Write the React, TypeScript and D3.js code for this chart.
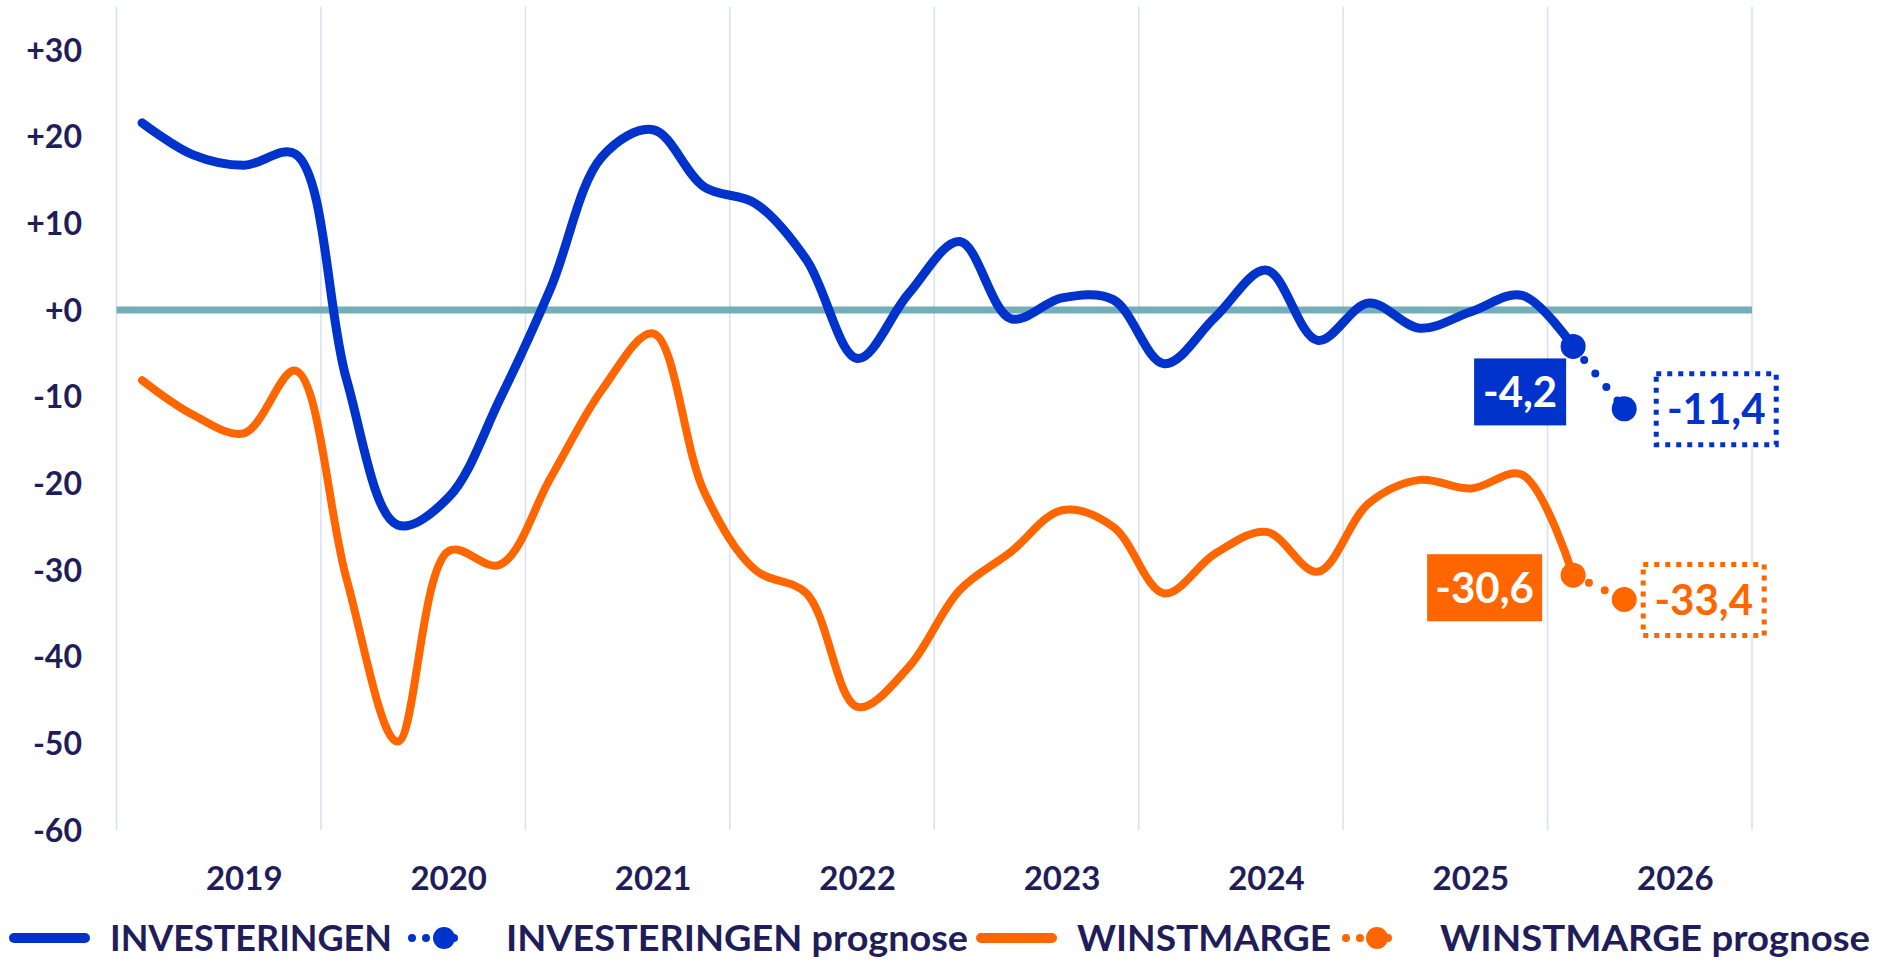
import React, { useEffect, useRef } from 'react';
import * as d3 from 'd3';

const years = ['2019', '2020', '2021', '2022', '2023', '2024', '2025', '2026'];
const quarters = years.flatMap((yr) => ['K1', 'K2', 'K3', 'K4'].map((k) => yr + ' ' + k));
const yTicks = [30, 20, 10, 0, -10, -20, -30, -40, -50, -60];
const yTickLabels = ['+30', '+20', '+10', '+0', '-10', '-20', '-30', '-40', '-50', '-60'];

// kwartaalcijfers 2019 K1 .. 2026 K1
const investeringen = [21.6, 17.9, 16.7, 18.0, -8.0, -24.8, -21.6, -10.3, 2.6, 17.7, 20.8, 14.2,
  12.3, 5.8, -5.6, 1.9, 7.9, -1.0, 1.4, 1.2, -6.2, -0.8, 4.6, -3.5, 0.8, -2.1, -0.2, 1.7, -4.2];
const winstmarge = [-8.1, -12.1, -14.2, -7.0, -31.0, -49.8, -27.8, -29.4, -19.3, -9.2, -2.7, -21.0,
  -30.0, -32.7, -45.8, -41.2, -32.3, -27.9, -23.1, -25.0, -32.7, -28.1, -25.6, -30.2, -22.3, -19.6, -20.6, -19.0, -30.6];
// prognose 2026 K1 .. 2026 K2
const investeringenPrognose = [-4.2, -11.4];
const winstmargePrognose = [-30.6, -33.4];
const prognoseStart = 28;

const legendLabels = ['INVESTERINGEN', 'INVESTERINGEN prognose', 'WINSTMARGE', 'WINSTMARGE prognose'];

const BLUE = '#0033cc';
const ORANGE = '#ff6600';
const TEXT = '#1f1d5a';
const FONT = 'Lato, "Open Sans", sans-serif';

const App = () => {
  const svgRef = useRef(null);
  const width = 1883, height = 962;

  useEffect(() => {
    const svg = d3.select(svgRef.current);
    svg.selectAll('*').remove();

    const x = d3.scaleBand().domain(quarters).range([116.5, 1752]).padding(0);
    const y = d3.scaleLinear().domain([-60, 35]).range([830, 6.7]);
    const bw = x.bandwidth();
    const cx = (i) => x(quarters[i]) + bw / 2;

    // vertical gridlines at year starts
    const gridX = years.map((yr) => x(yr + ' K1')).concat([x.range()[1]]);
    svg.append('g').selectAll('line').data(gridX).join('line')
      .attr('x1', d => d).attr('x2', d => d)
      .attr('y1', y(35)).attr('y2', y(-60))
      .attr('stroke', '#d6e0f2').attr('stroke-width', 1.5);

    // zero line
    svg.append('line')
      .attr('x1', x.range()[0]).attr('x2', x.range()[1])
      .attr('y1', y(0)).attr('y2', y(0))
      .attr('stroke', '#74afb7').attr('stroke-width', 7);

    // y tick labels
    svg.append('g').selectAll('text').data(yTicks).join('text')
      .attr('x', 82).attr('y', d => y(d) + 11.5)
      .attr('text-anchor', 'end')
      .attr('font-family', FONT).attr('font-weight', 'bold').attr('font-size', 32)
      .attr('fill', TEXT)
      .text((d, i) => yTickLabels[i]);

    // year labels
    svg.append('g').selectAll('text').data(years).join('text')
      .attr('x', d => x(d + ' K3') + bw / 2).attr('y', 890)
      .attr('text-anchor', 'middle')
      .attr('font-family', FONT).attr('font-weight', 'bold').attr('font-size', 33)
      .attr('fill', TEXT)
      .text(d => d);

    const line = d3.line()
      .x(d => cx(d.i)).y(d => y(d.v))
      .curve(d3.curveCatmullRom.alpha(0.5));

    const series = [
      { data: investeringen, prog: investeringenPrognose, color: BLUE, w: 9 },
      { data: winstmarge, prog: winstmargePrognose, color: ORANGE, w: 8 },
    ];

    series.forEach(s => {
      svg.append('path')
        .datum(s.data.map((v, i) => ({ i, v })))
        .attr('d', line)
        .attr('fill', 'none').attr('stroke', s.color)
        .attr('stroke-width', s.w).attr('stroke-linecap', 'round').attr('stroke-linejoin', 'round');

      const pts = s.prog.map((v, k) => ({ i: prognoseStart + k, v }));
      svg.append('path')
        .datum(pts)
        .attr('d', d3.line().x(d => cx(d.i)).y(d => y(d.v)))
        .attr('fill', 'none').attr('stroke', s.color)
        .attr('stroke-width', 8).attr('stroke-linecap', 'round')
        .attr('stroke-dasharray', '0 17.5');

      svg.append('g').selectAll('circle').data(pts).join('circle')
        .attr('cx', d => cx(d.i)).attr('cy', d => y(d.v)).attr('r', 12.5)
        .attr('fill', s.color);
    });

    // data labels
    const fmt = (v) => String(v).replace('.', ',');
    const labels = [
      { i: prognoseStart, v: investeringenPrognose[0], color: BLUE, solid: true, dx: -99, dy: 12, w: 92, h: 67 },
      { i: prognoseStart + 1, v: investeringenPrognose[1], color: BLUE, solid: false, dx: 32, dy: -35, w: 120, h: 71 },
      { i: prognoseStart, v: winstmargePrognose[0], color: ORANGE, solid: true, dx: -146, dy: -21, w: 115, h: 67 },
      { i: prognoseStart + 1, v: winstmargePrognose[1], color: ORANGE, solid: false, dx: 19, dy: -35, w: 121, h: 71 },
    ];
    labels.forEach(l => {
      const bx = cx(l.i) + l.dx, by = y(l.v) + l.dy;
      svg.append('rect')
        .attr('x', bx).attr('y', by).attr('width', l.w).attr('height', l.h)
        .attr('fill', l.solid ? l.color : 'white')
        .attr('stroke', l.solid ? 'none' : l.color)
        .attr('stroke-width', 5).attr('stroke-dasharray', l.solid ? null : '5 6');
      svg.append('text')
        .attr('x', bx + l.w / 2).attr('y', by + l.h / 2 + 15)
        .attr('text-anchor', 'middle')
        .attr('font-family', FONT).attr('font-weight', 'bold').attr('font-size', 42)
        .attr('fill', l.solid ? 'white' : l.color)
        .text(fmt(l.v));
    });

    // legend
    const ly = 938;
    const lg = svg.append('g');
    const legendItems = [
      { kind: 'line', color: BLUE, x0: 14, x1: 85, tx: 110, tw: 282 },
      { kind: 'dot', color: BLUE, x0: 412, x1: 468, big: 444, tx: 506, tw: 462 },
      { kind: 'line', color: ORANGE, x0: 981, x1: 1052, tx: 1077, tw: 254 },
      { kind: 'dot', color: ORANGE, x0: 1346, x1: 1402, big: 1377, tx: 1440, tw: 430 },
    ];
    legendItems.forEach((it, k) => {
      if (it.kind === 'line') {
        lg.append('line').attr('x1', it.x0).attr('x2', it.x1).attr('y1', ly).attr('y2', ly)
          .attr('stroke', it.color).attr('stroke-width', 10).attr('stroke-linecap', 'round');
      } else {
        lg.append('line').attr('x1', it.x0).attr('x2', it.x1).attr('y1', ly).attr('y2', ly)
          .attr('stroke', it.color).attr('stroke-width', 8).attr('stroke-linecap', 'round')
          .attr('stroke-dasharray', '0 14');
        lg.append('circle').attr('cx', it.big).attr('cy', ly).attr('r', 11).attr('fill', it.color);
      }
      lg.append('text').attr('x', it.tx).attr('y', ly + 13)
        .attr('font-family', FONT).attr('font-weight', 'bold').attr('font-size', 36)
        .attr('textLength', it.tw).attr('lengthAdjust', 'spacingAndGlyphs')
        .attr('fill', TEXT)
        .text(legendLabels[k]);
    });
  }, []);

  return (
    <svg ref={svgRef} width={width} height={height}
      style={{ position: 'absolute', left: 0, top: 0, background: 'white' }} />
  );
};

export default App;
